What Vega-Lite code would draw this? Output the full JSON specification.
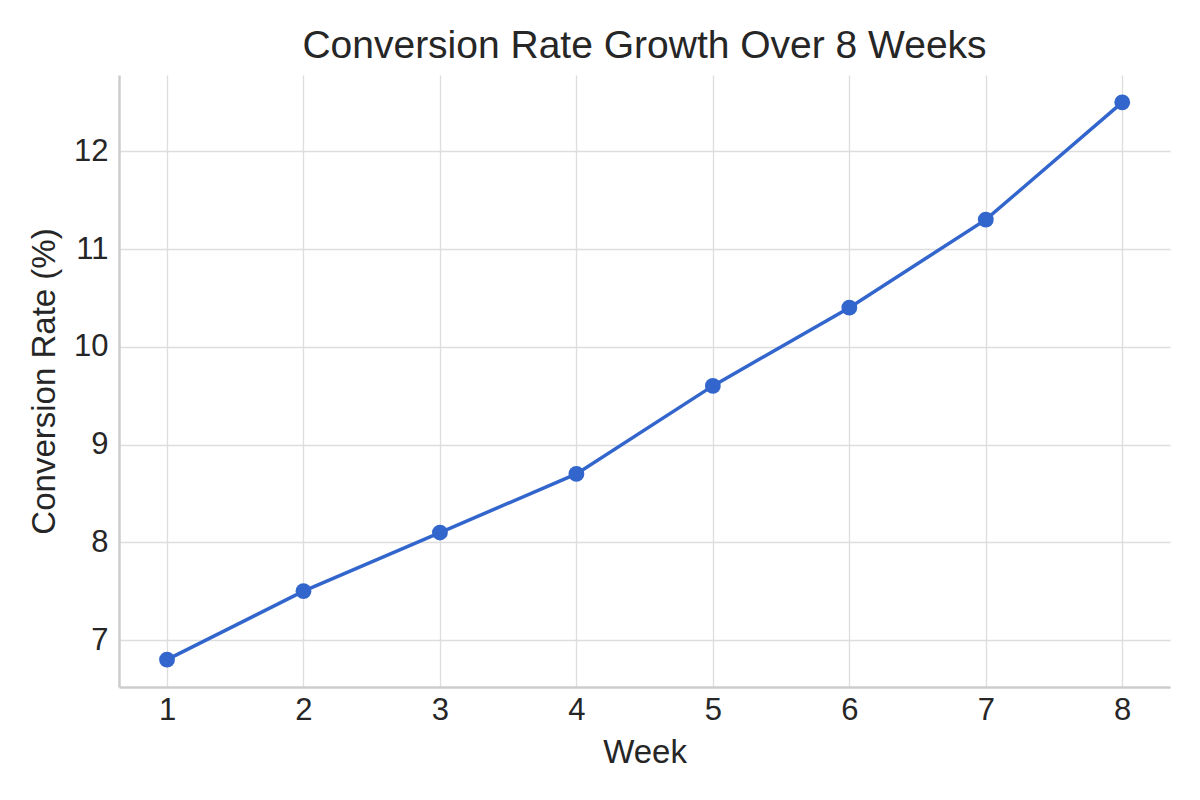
{
  "$schema": "https://vega.github.io/schema/vega-lite/v6.json",
  "width": 1051,
  "height": 612,
  "autosize": {"type": "none"},
  "padding": {"left": 119, "top": 75, "right": 30, "bottom": 113},
  "background": "white",
  "title": {
    "text": "Conversion Rate Growth Over 8 Weeks",
    "font": "Liberation Sans",
    "fontSize": 39,
    "fontWeight": "normal",
    "color": "#262626",
    "anchor": "middle",
    "offset": 9
  },
  "data": {
    "values": [
      {"week": 1, "rate": 6.8},
      {"week": 2, "rate": 7.5},
      {"week": 3, "rate": 8.1},
      {"week": 4, "rate": 8.7},
      {"week": 5, "rate": 9.6},
      {"week": 6, "rate": 10.4},
      {"week": 7, "rate": 11.3},
      {"week": 8, "rate": 12.5}
    ]
  },
  "mark": {
    "type": "line",
    "color": "#3366cc",
    "strokeWidth": 3.5,
    "point": {"filled": true, "size": 250, "color": "#3366cc", "opacity": 1}
  },
  "encoding": {
    "x": {
      "field": "week",
      "type": "quantitative",
      "title": "Week",
      "scale": {"domain": [0.648, 8.35], "nice": false, "zero": false},
      "axis": {"values": [1, 2, 3, 4, 5, 6, 7, 8], "format": "d", "titlePadding": 11, "labelPadding": 8}
    },
    "y": {
      "field": "rate",
      "type": "quantitative",
      "title": "Conversion Rate (%)",
      "scale": {"domain": [6.52, 12.78], "nice": false, "zero": false},
      "axis": {"values": [7, 8, 9, 10, 11, 12], "format": "d", "titlePadding": 12, "labelPadding": 11}
    }
  },
  "config": {
    "view": {"stroke": null},
    "axis": {
      "labelFont": "Liberation Sans",
      "labelFontSize": 31,
      "labelColor": "#262626",
      "titleFont": "Liberation Sans",
      "titleFontSize": 33,
      "titleFontWeight": "normal",
      "titleColor": "#262626",
      "grid": true,
      "gridColor": "#dddddd",
      "gridWidth": 1.3,
      "domainColor": "#cccccc",
      "domainWidth": 2.5,
      "ticks": false
    }
  }
}
